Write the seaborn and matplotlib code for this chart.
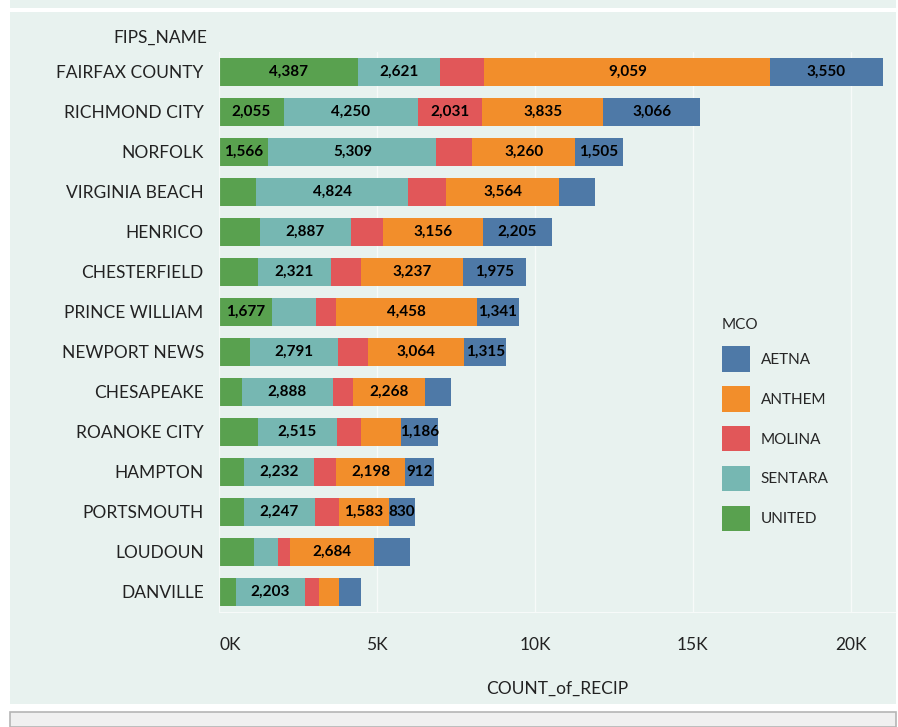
import numpy as np
import pandas as pd
import seaborn as sns
import matplotlib.pyplot as plt
from matplotlib.patches import Patch, Rectangle

sns.set_style('white')
plt.rcParams['font.family'] = ['Lato', 'DejaVu Sans']

names = ['FAIRFAX COUNTY', 'RICHMOND CITY', 'NORFOLK', 'VIRGINIA BEACH', 'HENRICO',
         'CHESTERFIELD', 'PRINCE WILLIAM', 'NEWPORT NEWS', 'CHESAPEAKE', 'ROANOKE CITY',
         'HAMPTON', 'PORTSMOUTH', 'LOUDOUN', 'DANVILLE']

united = [4387, 2055, 1566, 1166, 1291, 1222, 1677, 970, 722, 1222, 777, 777, 1095, 526]
sentara = [2621, 4250, 5309, 4824, 2887, 2321, 1387, 2791, 2888, 2515, 2232, 2247, 765, 2203]
molina = [1390, 2031, 1138, 1210, 1014, 958, 638, 943, 638, 750, 694, 765, 376, 445]
anthem = [9059, 3835, 3260, 3564, 3156, 3237, 4458, 3064, 2268, 1275, 2198, 1583, 2684, 640]
aetna = [3550, 3066, 1505, 1138, 2205, 1975, 1341, 1315, 821, 1186, 912, 830, 1138, 694]

# which segment labels are visible in the original
united_lbl = [1, 1, 1, 0, 0, 0, 1, 0, 0, 0, 0, 0, 0, 0]
sentara_lbl = [1, 1, 1, 1, 1, 1, 0, 1, 1, 1, 1, 1, 0, 1]
molina_lbl = [0, 1, 0, 0, 0, 0, 0, 0, 0, 0, 0, 0, 0, 0]
anthem_lbl = [1, 1, 1, 1, 1, 1, 1, 1, 1, 0, 1, 1, 1, 0]
aetna_lbl = [1, 1, 1, 0, 1, 1, 1, 1, 0, 1, 1, 1, 0, 0]

mcos = ['UNITED', 'SENTARA', 'MOLINA', 'ANTHEM', 'AETNA']
series = [united, sentara, molina, anthem, aetna]
labels = [united_lbl, sentara_lbl, molina_lbl, anthem_lbl, aetna_lbl]
colors = {'AETNA': '#4E79A7', 'ANTHEM': '#F28E2B', 'MOLINA': '#E15759',
          'SENTARA': '#76B7B2', 'UNITED': '#59A14F'}

panel = '#E8F2EF'
W, H = 898, 727
fig = plt.figure(figsize=(W / 100, H / 100), dpi=100)
fig.patch.set_facecolor('white')

# background panels
fig.add_artist(Rectangle((10 / W, 1 - 8 / H), 886 / W, 8 / H, transform=fig.transFigure,
                         facecolor=panel, edgecolor='none', zorder=-5))
fig.add_artist(Rectangle((10 / W, 1 - 704 / H), 886 / W, 692 / H, transform=fig.transFigure,
                         facecolor=panel, edgecolor='none', zorder=-5))
fig.add_artist(Rectangle((10 / W, 0), 886 / W, 15 / H, transform=fig.transFigure,
                         facecolor='#F0F0F0', edgecolor='#B5B5B5', lw=1.2, zorder=-5))

ax = fig.add_axes([219 / W, 1 - 612 / H, 676 / W, 560 / H])
ax.set_facecolor(panel)

cum = np.cumsum(np.array(series), axis=0)
df = pd.DataFrame({'name': names})
for i in range(len(mcos) - 1, -1, -1):
    df['cum'] = cum[i]
    sns.barplot(data=df, x='cum', y='name', color=colors[mcos[i]], orient='h',
                width=0.7, saturation=1, linewidth=0, edgecolor='none', ax=ax, zorder=2)

for i, mco in enumerate(mcos):
    start = cum[i] - np.array(series[i])
    for j, v in enumerate(series[i]):
        if labels[i][j]:
            ax.text(start[j] + v / 2, j, f'{v:,}', ha='center', va='center',
                    fontsize=11, fontweight='bold', color='black', zorder=3)

ax.set_xlim(0, 21400)
ax.set_ylim(13.5, -0.5)
ax.set_xticks([0, 5000, 10000, 15000, 20000])
ax.set_xticklabels(['0K', '5K', '10K', '15K', '20K'])
ax.xaxis.grid(True, color='#F7FAF9', lw=1, zorder=0)
ax.set_axisbelow(True)
for s in ['top', 'right']:
    ax.spines[s].set_visible(False)
ax.spines['bottom'].set_color('#F7FAF9')
ax.spines['left'].set_color('#F7FAF9')
ax.tick_params(axis='x', length=0, pad=18, labelsize=12.5, colors='#222222')
ax.tick_params(axis='y', length=0, pad=11, labelsize=12.5, colors='#222222')
ax.set_ylabel('')
ax.set_xlabel('COUNT_of_RECIP', fontsize=12.5, color='#222222', labelpad=20)
ax.get_xticklabels()[0].set_ha('left')

fig.text(207 / W, 1 - 38 / H, 'FIPS_NAME', ha='right', va='center', fontsize=12.5, color='#222222')

order = ['AETNA', 'ANTHEM', 'MOLINA', 'SENTARA', 'UNITED']
handles = [Patch(facecolor=colors[m], edgecolor='none') for m in order]
leg = fig.legend(handles, order, title='MCO',
                 loc='upper left', bbox_to_anchor=(708 / W, 1 - 304 / H), frameon=False,
                 fontsize=11, title_fontsize=11, handlelength=1.85, handleheight=2.18,
                 labelspacing=0.95, handletextpad=0.7, alignment='left')

fig.savefig('out.png', dpi=100, facecolor=fig.get_facecolor())
